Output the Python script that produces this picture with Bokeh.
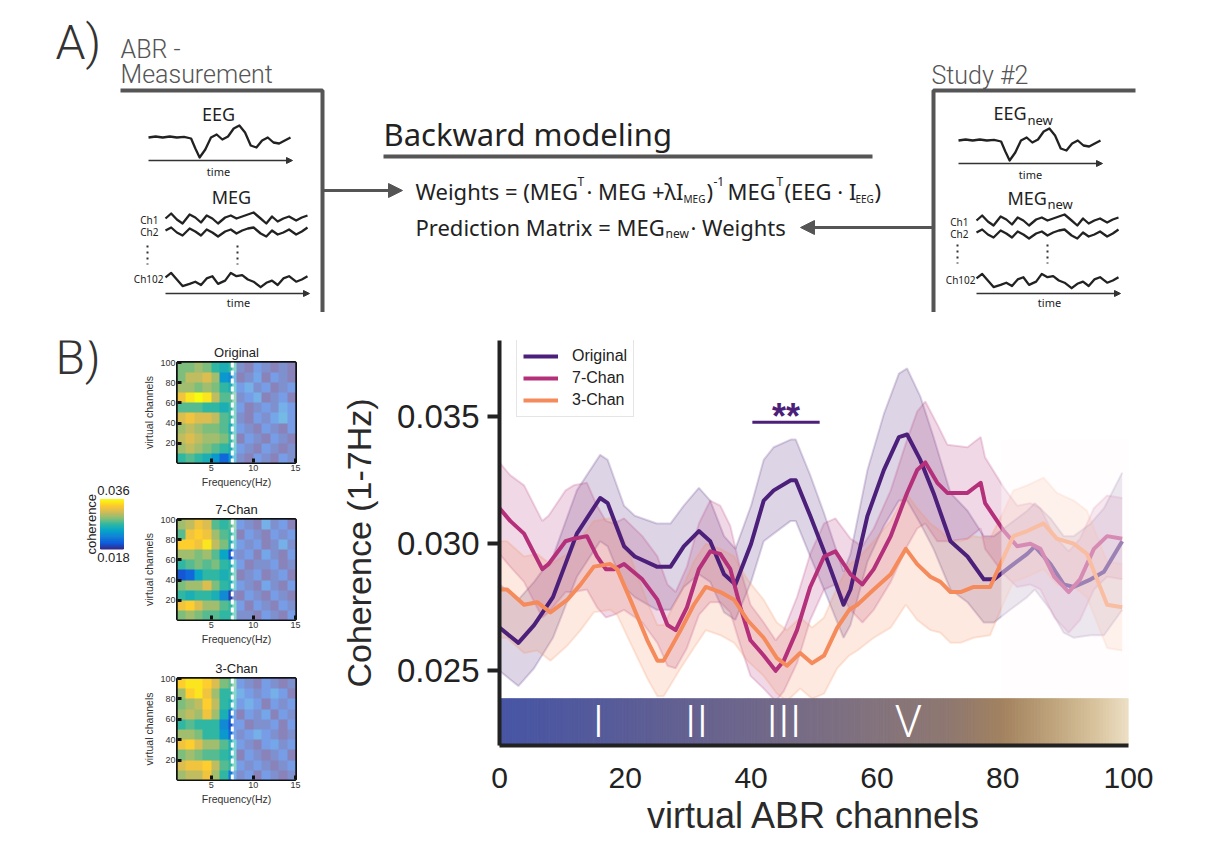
import numpy as np
from bokeh.plotting import figure
from bokeh.models import (Range1d, FixedTicker, PrintfTickFormatter, Legend, LegendItem,
                          Span, Arrow, NormalHead, LinearColorMapper)
from bokeh.layouts import column, row
from bokeh.core.properties import value
from bokeh.embed import file_html
from bokeh.resources import INLINE

# ---------------- data ----------------
series_names = ["Original", "7-Chan", "3-Chan"]

orig_x = [0, 3, 5.5, 8.5, 12.3, 16, 17.2, 19.8, 21.5, 25, 27.2, 29.3, 31.7, 33.5, 35.7,
          37.5, 40, 42, 43.6, 46.3, 47.1, 49.4, 51.6, 54.7, 55.8, 58.5, 61.1, 63.5, 64.8, 66.9,
          69, 71.7, 74.4, 77, 78.6, 81.2, 83.9, 85.1, 87.6, 89.7, 91.3, 94, 96.1, 99]
orig_y = [0.0267, 0.0261, 0.0268, 0.0279, 0.0304, 0.0318, 0.0316, 0.0299, 0.0295, 0.0291,
          0.0291, 0.0299, 0.0305, 0.0301, 0.0288, 0.0284, 0.0300, 0.0317, 0.0321, 0.0325,
          0.0325, 0.0311, 0.0297, 0.0276, 0.0282, 0.0311, 0.0329, 0.0342, 0.0343, 0.0333,
          0.0320, 0.0301, 0.0295, 0.0286, 0.0286, 0.0291, 0.0296, 0.0299, 0.0292, 0.0284,
          0.0283, 0.0286, 0.0289, 0.0301]
orig_err = [0.0017, 0.0017, 0.0017, 0.0016, 0.0017, 0.0017, 0.0017, 0.0016, 0.0016, 0.0017,
            0.0017, 0.0016, 0.0017, 0.0016, 0.0015, 0.0014, 0.0015, 0.0016, 0.0017, 0.0016,
            0.0016, 0.0016, 0.0015, 0.0013, 0.0014, 0.0018, 0.0022, 0.0025, 0.0026, 0.0025,
            0.0022, 0.0019, 0.0018, 0.0017, 0.0017, 0.0017, 0.0017, 0.0017, 0.0018, 0.0019,
            0.0020, 0.0022, 0.0025, 0.0027]

chan7_x = [0, 1.7, 3.9, 6.8, 7.8, 10.5, 11.8, 13.9, 15.5, 16.9, 18.2, 19.8, 22.7, 25.1, 26.7,
           28, 29.8, 31.7, 33.5, 35.1, 36.7, 38.3, 39.9, 42, 43.9, 45.2, 47.3, 49.4, 51.6, 53.4,
           55.8, 57.7, 59.5, 62.2, 64.8, 66.4, 67.7, 69.6, 71.2, 74.4, 76.5, 77.2, 80.2, 82.3,
           84.4, 86, 88.2, 90.5, 92.3, 94.5, 96.6, 99]
chan7_y = [0.0314, 0.0309, 0.0304, 0.0290, 0.0292, 0.0301, 0.0302, 0.0303, 0.0295, 0.0290,
           0.0290, 0.0292, 0.0286, 0.0278, 0.0268, 0.0266, 0.0275, 0.0290, 0.0297, 0.0296,
           0.0290, 0.0275, 0.0262, 0.0256, 0.0250, 0.0254, 0.0266, 0.0283, 0.0295, 0.0297,
           0.0288, 0.0284, 0.0290, 0.0303, 0.0320, 0.0329, 0.0332, 0.0324, 0.0320, 0.0320,
           0.0324, 0.0316, 0.0305, 0.0299, 0.0300, 0.0298, 0.0287, 0.0281, 0.0286, 0.0298,
           0.0303, 0.0302]
chan7_err = [0.0018, 0.0018, 0.0019, 0.0019, 0.0019, 0.0020, 0.0021, 0.0021, 0.0020, 0.0019,
             0.0018, 0.0018, 0.0017, 0.0017, 0.0016, 0.0015, 0.0016, 0.0018, 0.0020, 0.0019,
             0.0017, 0.0015, 0.0014, 0.0013, 0.0012, 0.0012, 0.0013, 0.0013, 0.0013, 0.0013,
             0.0014, 0.0015, 0.0016, 0.0018, 0.0021, 0.0023, 0.0024, 0.0023, 0.0019, 0.0018,
             0.0018, 0.0018, 0.0017, 0.0016, 0.0016, 0.0016, 0.0016, 0.0016, 0.0016, 0.0016,
             0.0016, 0.0016]

chan3_x = [0, 1.2, 3.9, 6, 8.1, 10.8, 12.9, 15, 17.6, 18.7, 20.8, 23.5, 25.1, 26.1, 28.8,
           30.9, 32.8, 35.1, 37.3, 39.4, 42, 44.1, 45.7, 47.8, 49.7, 51.6, 53.7, 55.6, 56.9,
           59.5, 62.2, 64.6, 66.4, 68.5, 70.1, 71.7, 73.3, 75.4, 78, 80.2, 81.7, 83.9, 86.5,
           88.6, 91.3, 93.4, 95, 96.6, 99]
chan3_y = [0.0282, 0.0282, 0.0276, 0.0277, 0.0273, 0.0278, 0.0284, 0.0291, 0.0292, 0.0290,
           0.0278, 0.0262, 0.0254, 0.0254, 0.0266, 0.0276, 0.0283, 0.0281, 0.0278, 0.0270,
           0.0263, 0.0255, 0.0252, 0.0257, 0.0253, 0.0256, 0.0267, 0.0274, 0.0276, 0.0282,
           0.0288, 0.0298, 0.0292, 0.0287, 0.0285, 0.0281, 0.0281, 0.0283, 0.0283, 0.0295,
           0.0303, 0.0305, 0.0308, 0.0302, 0.0300, 0.0296, 0.0286, 0.0276, 0.0275]
chan3_err = [0.0019, 0.0019, 0.0019, 0.0019, 0.0019, 0.0018, 0.0018, 0.0018, 0.0018, 0.0018,
             0.0017, 0.0015, 0.0014, 0.0014, 0.0015, 0.0017, 0.0017, 0.0017, 0.0017, 0.0016,
             0.0015, 0.0014, 0.0014, 0.0014, 0.0014, 0.0015, 0.0016, 0.0018, 0.0018, 0.0019,
             0.0021, 0.0022, 0.0022, 0.0021, 0.0020, 0.0020, 0.0020, 0.0020, 0.0019, 0.0018,
             0.0018, 0.0018, 0.0018, 0.0018, 0.0017, 0.0017, 0.0017, 0.0017, 0.0017]

y_ticks = [0.025, 0.030, 0.035]
x_ticks = [0, 20, 40, 60, 80, 100]
wave_labels = ["I", "II", "III", "V"]
wave_pos = [15.7, 31.3, 45.2, 65.0]
sig_x = [40.2, 50.9]
sig_level = 0.03478
sig_text = "**"

heat_titles = ["Original", "7-Chan", "3-Chan"]
# coherence x 1e-3; rows: channels 90-100 (top) ... 0-10 (bottom); columns: 1-2 Hz ... 14-15 Hz
heat_original = [
    [29, 29, 30, 29, 27, 26, 27, 19, 18, 20, 19, 18, 19, 18],
    [29, 31, 31, 32, 30, 24, 23, 18, 19, 21, 18, 20, 19, 18],
    [30, 30, 29, 30, 29, 27, 26, 20, 22, 19, 20, 18, 19, 20],
    [33, 35, 36, 35, 31, 28, 28, 19, 20, 22, 18, 19, 20, 18],
    [28, 28, 28, 27, 27, 26, 27, 20, 18, 19, 20, 19, 22, 20],
    [32, 33, 32, 32, 31, 28, 27, 19, 18, 20, 19, 21, 23, 20],
    [30, 31, 30, 29, 29, 28, 26, 20, 19, 18, 20, 19, 18, 20],
    [31, 32, 31, 30, 30, 29, 27, 18, 20, 19, 18, 20, 19, 18],
    [30, 31, 30, 29, 28, 27, 26, 20, 19, 18, 20, 19, 18, 19],
    [27, 28, 27, 26, 24, 21, 24, 19, 18, 20, 19, 18, 20, 19],
]
heat_7chan = [
    [30, 31, 33, 32, 28, 27, 28, 20, 19, 18, 22, 19, 20, 18],
    [28, 33, 34, 33, 30, 28, 27, 18, 20, 19, 18, 20, 19, 20],
    [34, 34, 33, 35, 31, 29, 26, 20, 19, 20, 18, 19, 22, 19],
    [30, 30, 29, 30, 28, 25, 20, 19, 20, 18, 21, 19, 18, 20],
    [27, 28, 29, 28, 29, 27, 26, 20, 18, 19, 19, 20, 18, 19],
    [20, 21, 25, 27, 27, 26, 27, 18, 19, 20, 18, 19, 20, 18],
    [29, 30, 30, 32, 29, 27, 26, 20, 19, 18, 21, 19, 18, 20],
    [27, 26, 27, 27, 26, 23, 19, 18, 20, 19, 18, 20, 19, 18],
    [33, 34, 32, 30, 30, 28, 27, 20, 18, 20, 19, 18, 20, 19],
    [29, 30, 29, 28, 28, 27, 27, 19, 19, 18, 20, 19, 18, 20],
]
heat_3chan = [
    [34, 35, 35, 34, 32, 29, 28, 20, 19, 18, 20, 19, 18, 19],
    [30, 34, 35, 33, 30, 27, 27, 22, 20, 19, 20, 22, 20, 18],
    [29, 30, 31, 34, 31, 27, 26, 20, 22, 20, 18, 20, 19, 20],
    [30, 31, 30, 33, 30, 26, 21, 18, 20, 19, 21, 18, 20, 19],
    [27, 28, 27, 27, 27, 23, 20, 20, 18, 19, 19, 20, 18, 20],
    [30, 30, 29, 27, 27, 24, 21, 19, 20, 22, 20, 19, 18, 19],
    [33, 34, 32, 30, 30, 28, 26, 20, 19, 18, 20, 21, 19, 20],
    [29, 30, 29, 28, 28, 27, 26, 18, 20, 19, 18, 19, 20, 18],
    [32, 33, 33, 34, 31, 28, 27, 20, 19, 20, 19, 18, 19, 20],
    [30, 31, 31, 33, 30, 27, 22, 19, 20, 18, 20, 19, 18, 19],
]
heat_y_ticks = [20, 40, 60, 80, 100]
heat_x_ticks = [5, 10, 15]
heat_cutoff_hz = 7.5
cbar_low, cbar_high = 0.018, 0.036

# schematic waveforms (panel A), normalized shapes
eeg_t = [0.00, 0.05, 0.10, 0.15, 0.20, 0.25, 0.30, 0.33, 0.36, 0.40, 0.44, 0.48, 0.52,
         0.56, 0.60, 0.64, 0.68, 0.72, 0.76, 0.80, 0.84, 0.88, 0.92, 0.96, 1.00]
eeg_v = [0.05, 0.10, 0.05, 0.10, 0.05, 0.08, 0.00, -0.50, -0.95, -0.55, 0.05, 0.20, -0.05,
         0.10, 0.50, 0.65, 0.30, -0.35, -0.45, -0.10, 0.05, -0.20, -0.25, -0.10, 0.05]
meg_t = [0.00, 0.04, 0.08, 0.12, 0.17, 0.21, 0.25, 0.29, 0.33, 0.37, 0.42, 0.46, 0.50,
         0.54, 0.58, 0.62, 0.67, 0.71, 0.75, 0.79, 0.83, 0.87, 0.92, 0.96, 1.00]
meg1_v = [0.1, 0.6, 0.0, -0.4, 0.5, 0.2, -0.3, 0.4, 0.1, -0.4, 0.2, 0.4, 0.1, 0.3, 0.5,
          0.7, 0.1, -0.4, 0.3, -0.2, 0.1, 0.3, -0.1, 0.2, 0.4]
meg2_v = [0.0, 0.3, -0.2, -0.5, 0.2, -0.1, -0.5, 0.1, -0.2, -0.6, -0.1, 0.1, -0.3, 0.0,
          0.2, 0.3, -0.3, -0.6, 0.0, -0.4, -0.2, 0.1, -0.4, -0.1, 0.3]
meg102_v = [0.2, 0.6, 0.0, -0.6, -0.4, -0.2, -0.5, 0.1, 0.3, -0.4, -0.1, 0.6, 0.3, 0.4,
            0.0, -0.2, -0.7, -0.3, -0.1, -0.5, 0.1, 0.3, -0.2, 0.0, 0.3]

# ---------------- styles ----------------
W, H = 1209, 852
TOP_H = 312
LEFT_W = 130
HEAT_W = 200
MAIN_W = W - LEFT_W - HEAT_W
BOT_H = H - TOP_H

NARROW = "'Liberation Sans Narrow', 'Liberation Sans', sans-serif"
ARIAL = "Liberation Sans"
THIN = "'Roboto Light', Roboto, sans-serif"
AV = "Noto Sans"
INK = "#222222"
C_SERIES = ["#4b1f7a", "#b5307a", "#f58a5a"]

PARULA = ["#352a87", "#0f5cdd", "#1481d6", "#06a4ca", "#2eb7a4", "#87bf77",
          "#d1bb59", "#fec832", "#f9fb0e"]
BAR_POS = [0, 15, 30, 45, 60, 72, 80, 88, 95, 100]
BAR_COL = ["#4655a5", "#545a9b", "#646190", "#746a88", "#83737d", "#8f7870",
           "#a2825f", "#bea47c", "#d9c49f", "#ecdfc4"]


def hex2rgb(h):
    h = h.lstrip("#")
    return [int(h[i:i + 2], 16) for i in (0, 2, 4)]


def interp_colors(stop_pos, stop_hex, pos):
    rgb = np.array([hex2rgb(c) for c in stop_hex], dtype=float)
    out = []
    for p_ in pos:
        c = [int(round(np.interp(p_, stop_pos, rgb[:, k]))) for k in range(3)]
        out.append("#%02x%02x%02x" % tuple(c))
    return out


parula_pos = np.linspace(0, 1, len(PARULA))
parula256 = interp_colors(parula_pos, PARULA, np.linspace(0, 1, 256))


def put(f, x, y, s, size, font=AV, color=INK, align="left", baseline="middle",
        angle=0.0, style="normal", **kw):
    f.text(x=[x], y=[y], text=[s], text_font=value(font), text_font_size=size,
           text_color=color, text_align=align, text_baseline=baseline, angle=angle,
           text_font_style=style, **kw)


def canvas(width, height, x0, x1, y_bottom, y_top):
    f = figure(width=width, height=height, x_range=Range1d(x0, x1),
               y_range=Range1d(y_bottom, y_top), output_backend="svg",
               toolbar_location=None, min_border=0, x_axis_location=None,
               y_axis_location=None)
    f.grid.visible = False
    f.outline_line_color = None
    f.background_fill_color = "white"
    f.border_fill_color = "white"
    return f


# ---------------- panel A (schematic) ----------------
fa = canvas(W, TOP_H, 0, W, TOP_H, 0)
GREY = "#555555"


def wave(f, t, v, x0, x1, base, amp, width=2.3):
    xs = [x0 + (x1 - x0) * ti for ti in t]
    ys = [base - amp * vi for vi in v]
    f.line(xs, ys, line_color=INK, line_width=width, line_join="round")


def arrow(f, xs, ys, xe, ye, size, width, color):
    f.add_layout(Arrow(end=NormalHead(size=size, fill_color=color, line_color=color),
                       x_start=xs, y_start=ys, x_end=xe, y_end=ye,
                       line_width=width, line_color=color))


put(fa, 55, 42, "A)", "48px", font=THIN, color="#333333")
put(fa, 120, 49, "ABR -", "25px", font=THIN, color=GREY)
put(fa, 120, 74, "Measurement", "25px", font=THIN, color=GREY)
put(fa, 931, 75, "Study #2", "25px", font=THIN, color=GREY)
fa.line([120, 322, 322], [90, 90, 312], line_width=4, line_color=GREY)
fa.line([1135, 933, 933], [90, 90, 312], line_width=4, line_color=GREY)

# left block
put(fa, 218, 113, "EEG", "18px", align="center")
wave(fa, eeg_t, eeg_v, 148, 290, 138, 20)
arrow(fa, 148, 160, 292, 160, 6, 1.5, "#333333")
put(fa, 218, 171, "time", "11px", align="center")
put(fa, 231, 196, "MEG", "18px", align="center")
put(fa, 158, 219, "Ch1", "10px", align="right")
put(fa, 158, 231, "Ch2", "10px", align="right")
wave(fa, meg_t, meg1_v, 165, 307, 219, 10)
wave(fa, meg_t, meg2_v, 165, 307, 230, 10)
fa.line([147, 147], [245, 264], line_dash="2 4", line_width=2, line_color="#333333")
fa.line([237, 237], [245, 264], line_dash="2 4", line_width=2, line_color="#333333")
put(fa, 163, 278, "Ch102", "10px", align="right")
wave(fa, meg_t, meg102_v, 165, 307, 279, 11)
arrow(fa, 165, 293, 309, 293, 6, 1.5, "#333333")
put(fa, 238, 302, "time", "11px", align="center")

# right block
put(fa, 993, 112, "EEG", "18px")
put(fa, 1027, 119, "new", "13px")
wave(fa, eeg_t, eeg_v, 958, 1100, 141, 20)
arrow(fa, 958, 163, 1102, 163, 6, 1.5, "#333333")
put(fa, 1030, 174, "time", "11px", align="center")
put(fa, 1007, 197, "MEG", "18px")
put(fa, 1047, 203, "new", "13px")
put(fa, 968, 221, "Ch1", "10px", align="right")
put(fa, 968, 233, "Ch2", "10px", align="right")
wave(fa, meg_t, meg1_v, 976, 1118, 221, 10)
wave(fa, meg_t, meg2_v, 976, 1118, 232, 10)
fa.line([957, 957], [244, 263], line_dash="2 4", line_width=2, line_color="#333333")
fa.line([1047, 1047], [244, 263], line_dash="2 4", line_width=2, line_color="#333333")
put(fa, 975, 279, "Ch102", "10px", align="right")
wave(fa, meg_t, meg102_v, 976, 1118, 280, 11)
arrow(fa, 976, 293, 1120, 293, 6, 1.5, "#333333")
put(fa, 1049, 302, "time", "11px", align="center")

# centre block
put(fa, 383, 133, "Backward modeling", "31px")
fa.line([383, 872], [156, 156], line_width=4, line_color=GREY)
arrow(fa, 322, 190, 402, 190, 14, 3, GREY)
arrow(fa, 933, 227, 800, 227, 14, 3, GREY)
FS, SS, BS = "22px", "12px", "10px"
put(fa, 415, 190, "Weights = (MEG", FS)
put(fa, 577, 181, "T", SS)
put(fa, 586, 190, "\u00b7 MEG +\u03bbI", FS)
put(fa, 683, 198, "MEG", BS)
put(fa, 706, 190, ")", FS)
put(fa, 713, 181, "-1", SS)
put(fa, 727, 190, "MEG", FS)
put(fa, 776, 181, "T", SS)
put(fa, 784, 190, "(EEG \u00b7 I", FS)
put(fa, 855, 198, "EEG", BS)
put(fa, 874, 190, ")", FS)
put(fa, 415, 226, "Prediction Matrix = MEG", FS)
put(fa, 665, 233, "new", SS)
put(fa, 690, 226, "\u00b7 Weights", FS)

# ---------------- colour-bar column ----------------
cbf = canvas(LEFT_W, BOT_H, 0, LEFT_W, H, TOP_H)
BAR_TOP_PX, BAR_BOT_PX = 524, 590
per_px = (cbar_high - cbar_low) / (BAR_BOT_PX - BAR_TOP_PX)
cbf.extra_y_ranges = {"coh": Range1d(cbar_low - (H - BAR_BOT_PX) * per_px,
                                     cbar_low + (BAR_BOT_PX - TOP_H) * per_px)}
levels = np.linspace(cbar_low, cbar_high, 91)
lev_cols = interp_colors(parula_pos, PARULA,
                         (levels[:-1] - cbar_low) / (cbar_high - cbar_low))
cbf.quad(left=100, right=123, bottom=levels[:-1], top=levels[1:], fill_color=lev_cols,
         line_color=lev_cols, line_width=1, y_range_name="coh")
put(cbf, 113, 512, "%.3f" % cbar_high, "13px", font=ARIAL, align="center")
put(cbf, 113, 601, "%.3f" % cbar_low, "13px", font=ARIAL, align="center")
put(cbf, 91, 557, "coherence", "13px", font=ARIAL, align="center", angle=np.pi / 2)
put(cbf, 55, 334, "B)", "48px", font=THIN, color="#333333")

# ---------------- heat maps ----------------
mapper = LinearColorMapper(palette=parula256, low=cbar_low, high=cbar_high)


def heat(title, grid, height, top, bottom):
    f = figure(width=HEAT_W, height=height, x_range=Range1d(1, 15), y_range=Range1d(1, 100),
               output_backend="svg", toolbar_location=None, min_border_left=47,
               min_border_right=35, min_border_top=top, min_border_bottom=bottom,
               title=title)
    arr = np.array(grid, dtype=float)[::-1] * 1e-3
    f.image(image=[arr], x=1, y=0, dw=14, dh=100, color_mapper=mapper)
    f.quad(left=heat_cutoff_hz, right=15, bottom=0, top=100, fill_color="white",
           fill_alpha=0.42, line_color=None)
    f.add_layout(Span(location=heat_cutoff_hz, dimension="height", line_color="white",
                      line_width=3, line_dash="5 3"))
    f.grid.visible = False
    f.outline_line_color = "#111111"
    f.outline_line_width = 3
    f.xaxis.ticker = FixedTicker(ticks=heat_x_ticks)
    f.yaxis.ticker = FixedTicker(ticks=heat_y_ticks)
    f.xaxis.axis_label = "Frequency(Hz)"
    f.yaxis.axis_label = "virtual channels"
    for ax in (f.xaxis[0], f.yaxis[0]):
        ax.axis_line_color = None
        ax.major_tick_in = 4
        ax.major_tick_out = 0
        ax.minor_tick_in = 0
        ax.minor_tick_out = 0
        ax.major_tick_line_width = 3
        ax.major_tick_line_color = "#111111"
        ax.major_label_text_font = ARIAL
        ax.major_label_text_font_size = "9px"
        ax.major_label_text_color = "#333333"
        ax.major_label_standoff = 2
        ax.axis_label_text_font = ARIAL
        ax.axis_label_text_font_size = "10.5px"
        ax.axis_label_text_font_style = "normal"
        ax.axis_label_text_color = "#333333"
        ax.axis_label_standoff = 2
    f.title.align = "center"
    f.title.text_font = ARIAL
    f.title.text_font_size = "13px"
    f.title.text_font_style = "normal"
    f.title.text_color = INK
    f.title.standoff = 6
    f.background_fill_color = "white"
    f.border_fill_color = "white"
    return f


h1 = heat(heat_titles[0], heat_original, 183, 50, 33)
h2 = heat(heat_titles[1], heat_7chan, 155, 24, 31)
h3 = heat(heat_titles[2], heat_3chan, 202, 28, 73)

# ---------------- main chart ----------------
Y_LO, Y_HI = 0.02206, 0.0380
BAR_TOP = 0.0239
p = figure(width=MAIN_W, height=BOT_H, x_range=Range1d(0, 100), y_range=Range1d(Y_LO, Y_HI),
           output_backend="svg", toolbar_location=None, min_border_left=169,
           min_border_right=81, min_border_top=28, min_border_bottom=107)
p.grid.visible = False
p.outline_line_color = None
p.background_fill_color = "white"
p.border_fill_color = "white"

all_series = [(orig_x, orig_y, orig_err), (chan7_x, chan7_y, chan7_err),
              (chan3_x, chan3_y, chan3_err)]
for (xs, ys, es), col in zip(all_series, C_SERIES):
    lo = [y - e for y, e in zip(ys, es)]
    hi = [y + e for y, e in zip(ys, es)]
    p.varea(x=xs, y1=lo, y2=hi, fill_color=col, fill_alpha=0.19)
    p.line(xs, lo, line_color=col, line_alpha=0.2, line_width=2)
    p.line(xs, hi, line_color=col, line_alpha=0.2, line_width=2)

renderers = []
for (xs, ys, es), col in zip(all_series, C_SERIES):
    renderers.append(p.line(xs, ys, line_color=col, line_width=4, line_join="round"))

# faded region at the right end
p.quad(left=79.8, right=100, bottom=BAR_TOP, top=0.0341, fill_color="#fffafa",
       fill_alpha=0.45, line_color=None)

# ABR wave gradient bar
edges = np.linspace(0, 100, 201)
bar_cols = interp_colors(BAR_POS, BAR_COL, (edges[:-1] + edges[1:]) / 2)
p.quad(left=edges[:-1], right=edges[1:], bottom=Y_LO, top=BAR_TOP, fill_color=bar_cols,
       line_color=bar_cols, line_width=1)
p.text(x=wave_pos, y=[(Y_LO + BAR_TOP) / 2] * len(wave_pos), text=wave_labels,
       text_color="white", text_font=value(THIN), text_font_size="44px",
       text_align="center", text_baseline="middle")

# significance marker
p.line(sig_x, [sig_level] * 2, line_color=C_SERIES[0], line_width=3)
p.text(x=[sum(sig_x) / 2], y=[sig_level + 0.00024], text=[sig_text], text_color=C_SERIES[0],
       text_font=value(ARIAL), text_font_style="bold", text_font_size="36px",
       text_align="center", text_baseline="alphabetic")

legend = Legend(items=[LegendItem(label=n, renderers=[r]) for n, r in zip(series_names, renderers)],
                location=(17, 328))
legend.label_text_font = ARIAL
legend.label_text_font_size = "16px"
legend.label_text_color = INK
legend.glyph_width = 35
legend.glyph_height = 20
legend.label_height = 20
legend.label_standoff = 14
legend.padding = 6
legend.spacing = 2
legend.margin = 0
legend.border_line_color = "#cccccc"
legend.border_line_width = 1.5
legend.background_fill_alpha = 1
p.add_layout(legend)

ya = p.yaxis[0]
ya.ticker = FixedTicker(ticks=y_ticks)
ya.formatter = PrintfTickFormatter(format="%.3f")
ya.axis_label = "Coherence (1-7Hz)"
xa = p.xaxis[0]
xa.ticker = FixedTicker(ticks=x_ticks)
xa.axis_label = "virtual ABR channels"
for ax in (xa, ya):
    ax.axis_line_width = 4
    ax.axis_line_color = INK
    ax.major_tick_line_width = 4
    ax.major_tick_line_color = INK
    ax.major_tick_in = 0
    ax.minor_tick_in = 0
    ax.minor_tick_out = 0
    ax.major_label_text_font = NARROW
    ax.major_label_text_color = INK
    ax.axis_label_text_color = "#2a2a2a"
    ax.axis_label_text_font_style = "normal"
ya.major_tick_out = 12
ya.major_label_standoff = 8
ya.major_label_text_font_size = "33px"
ya.axis_label_text_font = ARIAL
ya.axis_label_text_font_size = "34px"
ya.axis_label_standoff = 16
xa.major_tick_out = 0
xa.major_label_standoff = 22
xa.major_label_text_font_size = "30px"
xa.axis_label_text_font = NARROW
xa.axis_label_text_font_size = "36px"
xa.axis_label_standoff = 4

page = column(fa, row(cbf, column(h1, h2, h3), p))
open("out.html", "w").write(file_html(page, INLINE))
